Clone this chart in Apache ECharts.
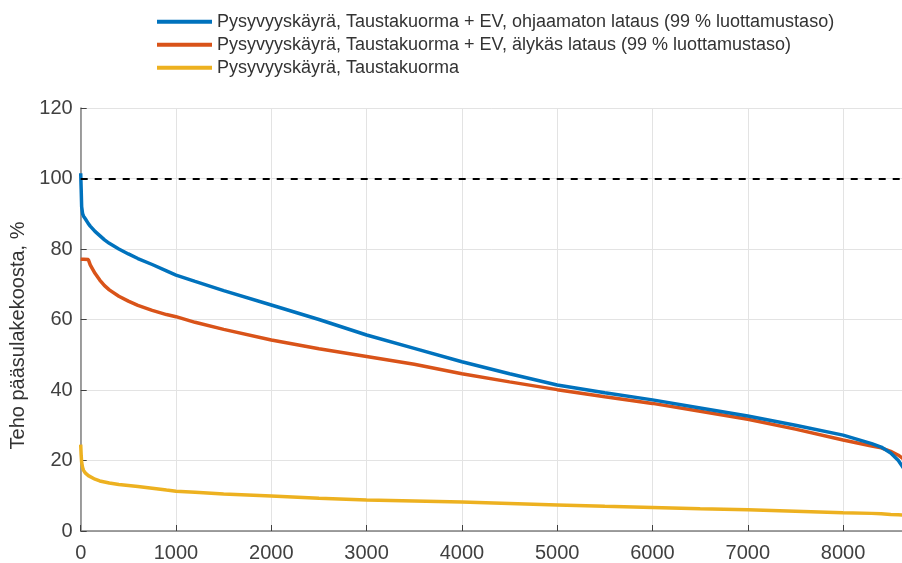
<!DOCTYPE html>
<html>
<head>
<meta charset="utf-8">
<script src="https://cdn.jsdelivr.net/npm/echarts@6/dist/echarts.min.js"></script>
<style>
html,body{margin:0;padding:0;background:#fff;}
#c{width:902px;height:563px;}
</style>
</head>
<body>
<div id="c"></div>
<script>
var seriesNames = [
  'Pysyvyyskäyrä, Taustakuorma + EV, ohjaamaton lataus (99 % luottamustaso)',
  'Pysyvyyskäyrä, Taustakuorma + EV, älykäs lataus (99 % luottamustaso)',
  'Pysyvyyskäyrä, Taustakuorma'
];
var hours = [0,5,10,20,30,50,80,100,150,200,250,300,400,500,600,750,900,1000,1200,1500,2000,2500,3000,3500,4000,4500,5000,5500,6000,6500,7000,7500,8000,8300,8400,8500,8580,8640];
var uncontrolled = [101.5,97,92,90,89.3,88.5,87.2,86.5,85,83.8,82.6,81.6,80,78.6,77.3,75.6,73.8,72.6,70.8,68.2,64.1,60,55.6,51.8,48,44.6,41.4,39.2,37.2,34.9,32.6,30,27.2,24.8,23.8,22.1,20,17.6];
var smart = [77.1,77.1,77.1,77.1,77.1,77.1,77,75.5,73.1,71.2,69.6,68.4,66.6,65.2,64,62.6,61.4,60.8,59.2,57.2,54.2,51.7,49.5,47.3,44.6,42.3,40.1,38.1,36.2,34,31.7,28.9,25.8,24.1,23.6,22.6,21.5,20.3];
var baseLoad = [24.5,21.5,19.5,18,17.2,16.4,15.7,15.4,14.7,14.2,13.9,13.6,13.2,12.9,12.6,12.1,11.6,11.3,11,10.5,9.9,9.3,8.8,8.5,8.2,7.8,7.4,7,6.7,6.3,6,5.6,5.2,5,4.9,4.7,4.6,4.5];
var fuseLimit = 100;
var yAxisTitle = 'Teho pääsulakekoosta, %';
var colors = ['#0072BD','#D95319','#EDB120'];

function pairs(vals){ return hours.map(function(h,i){ return [h, vals[i]]; }); }

var chart = echarts.init(document.getElementById('c'));
var font = 'Liberation Sans, Arial, sans-serif';
chart.setOption({
  animation: false,
  legend: {
    orient: 'vertical',
    left: 152, top: 6,
    itemWidth: 55, itemHeight: 4, itemGap: 1.5,
    icon: 'rect',
    textStyle: { fontFamily: font, fontSize: 18, color: '#333', lineHeight: 21.5 },
    data: seriesNames
  },
  grid: { left: 80.7, right: -13.5, top: 108, bottom: 32, outerBoundsMode: 'none', containLabel: false },
  xAxis: {
    type: 'value', min: 0, max: 8760, interval: 1000,
    axisLine: { lineStyle: { color: '#808080', width: 1.5 } },
    axisTick: { inside: true, length: 6, lineStyle: { color: '#404040' } },
    axisLabel: { fontFamily: font, fontSize: 20, color: '#404040', margin: 12, showMaxLabel: false,
      formatter: function(v){ return String(v); } },
    splitLine: { show: true, lineStyle: { color: '#e3e3e3' } }
  },
  yAxis: {
    type: 'value', min: 0, max: 120, interval: 20,
    name: yAxisTitle, nameLocation: 'middle', nameGap: 51,
    nameTextStyle: { fontFamily: font, fontSize: 20, color: '#333', padding: [0, 32, 0, 0] },
    axisLine: { show: true, lineStyle: { color: '#808080', width: 1.5 } },
    axisTick: { show: true, inside: true, length: 6, lineStyle: { color: '#404040' } },
    axisLabel: { fontFamily: font, fontSize: 20, color: '#404040', margin: 8,
      formatter: function(v){ return String(v); } },
    splitLine: { show: true, lineStyle: { color: '#e3e3e3' } }
  },
  series: [
    { name: seriesNames[0], type: 'line', data: pairs(uncontrolled), showSymbol: false, color: colors[0], lineStyle: { width: 3.5 }, z: 3,
      markLine: { silent: true, symbol: 'none', label: { show: false }, lineStyle: { color: '#000', type: [7,7], width: 1.8 }, data: [{ yAxis: fuseLimit }] } },
    { name: seriesNames[1], type: 'line', data: pairs(smart), showSymbol: false, color: colors[1], lineStyle: { width: 3.5 }, z: 2 },
    { name: seriesNames[2], type: 'line', data: pairs(baseLoad), showSymbol: false, color: colors[2], lineStyle: { width: 3.5 }, z: 2 }
  ]
});
</script>
</body>
</html>
